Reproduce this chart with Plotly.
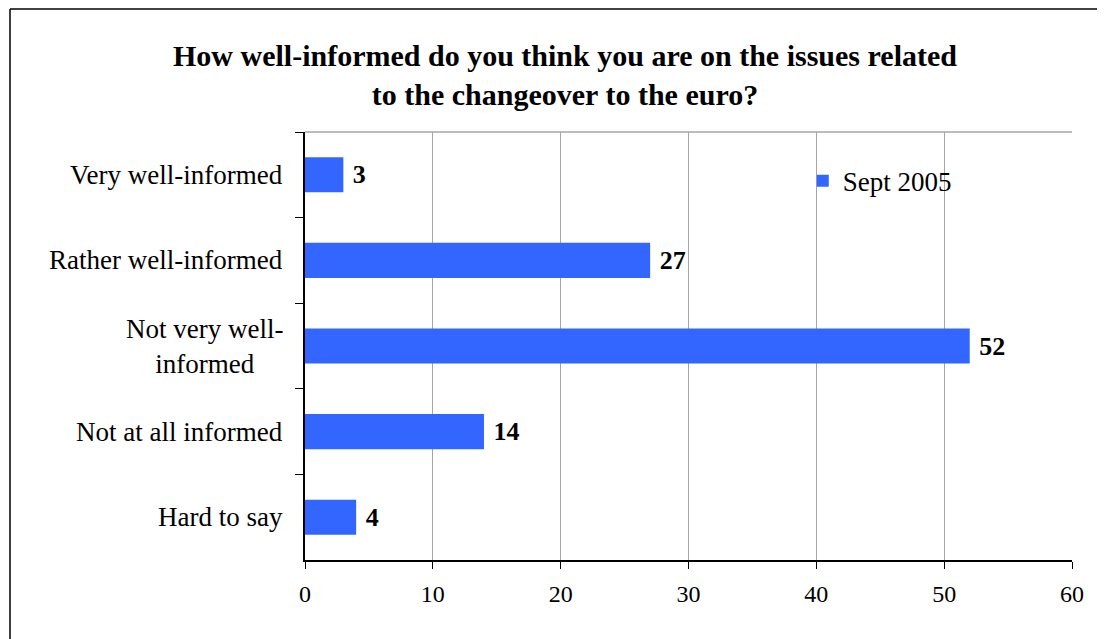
import plotly.graph_objects as go

categories = ["Very well-informed", "Rather well-informed", "Not very well-<br>informed",
              "Not at all informed", "Hard to say"]
values = [3, 27, 52, 14, 4]
series_name = "Sept 2005"
x_ticks = [0, 10, 20, 30, 40, 50, 60]
title_text = "How well-informed do you think you are on the issues related<br>to the changeover to the euro?"

FONT = "Liberation Serif, Times New Roman, serif"
BLUE = "#3366FF"

fig = go.Figure()
fig.add_trace(go.Bar(
    y=categories, x=values, orientation="h", name=series_name,
    marker=dict(color=BLUE, line=dict(width=0)),
    text=values, texttemplate=" %{text}", textposition="outside", cliponaxis=False,
    textfont=dict(family=FONT, size=26, color="black", weight="bold"),
    showlegend=True,
))

for c in categories:
    fig.add_annotation(x=-20 / 767, xref="paper", y=c, yref="y", text=c,
                       showarrow=False, xanchor="right", align="center",
                       font=dict(family=FONT, size=27, color="black"))

fig.update_layout(
    width=1105, height=639,
    margin=dict(l=297, r=41, t=124, b=87),
    paper_bgcolor="white", plot_bgcolor="white",
    bargap=0.59,
    title=dict(text="<b>" + title_text + "</b>", x=557 / 1105, xanchor="center",
               xref="container",
               y=1 - 58 / 639, yanchor="middle",
               font=dict(family=FONT, size=30, color="black")),
    legend=dict(x=0.649, y=0.885, xanchor="left", yanchor="middle",
                font=dict(family=FONT, size=27, color="black"),
                bgcolor="rgba(0,0,0,0)", itemwidth=30),
    xaxis=dict(range=[0, 60], tickvals=x_ticks, showgrid=True, gridcolor="#A6A6A6",
               gridwidth=1, showline=True, linecolor="black", linewidth=1.5,
               ticks="outside", ticklen=7, tickcolor="black", ticklabelstandoff=4,
               tickfont=dict(family=FONT, size=24, color="black"), zeroline=False),
    yaxis=dict(autorange="reversed", showticklabels=False, showline=True,
               linecolor="black", linewidth=1.5, ticks="outside", tickson="boundaries",
               ticklen=8, tickcolor="black", showgrid=False, zeroline=False),
    shapes=[
        dict(type="line", xref="paper", yref="paper", x0=0, x1=1, y0=1, y1=1,
             line=dict(color="#A6A6A6", width=1.5)),
        dict(type="line", xref="paper", yref="paper",
             x0=-295 / 767, x1=2, y0=1 + 123 / 428, y1=1 + 123 / 428,
             line=dict(color="black", width=1.5)),
        dict(type="line", xref="paper", yref="paper",
             x0=-295 / 767, x1=-295 / 767, y0=-0.5, y1=1 + 123 / 428,
             line=dict(color="black", width=1.5)),
    ],
)

fig.write_html("out.html")
